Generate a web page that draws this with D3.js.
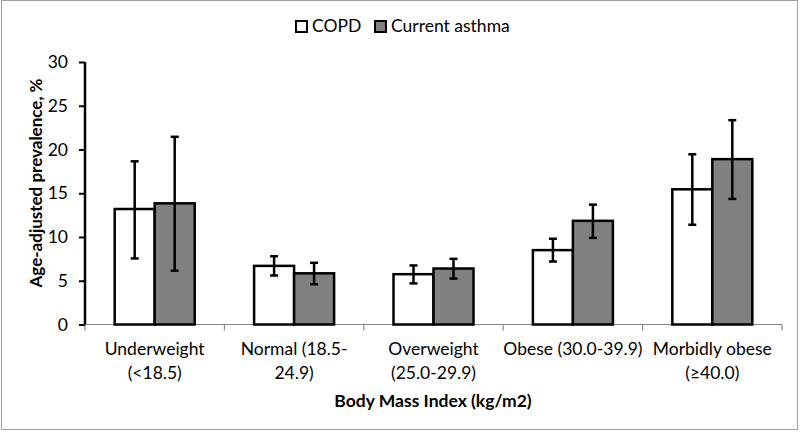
<!DOCTYPE html>
<html><head><meta charset="utf-8">
<script src="https://cdn.jsdelivr.net/npm/d3@7/dist/d3.min.js"></script>
<style>body{margin:0;background:#fff}svg{display:block}text{font-family:Lato,"Open Sans",sans-serif;fill:#000}</style>
</head><body><svg id="c" width="800" height="432"></svg>
<script>
const categories = ["Underweight (<18.5)", "Normal (18.5-24.9)", "Overweight (25.0-29.9)", "Obese (30.0-39.9)", "Morbidly obese (≥40.0)"];
const categoryLines = [["Underweight","(<18.5)"],["Normal (18.5-","24.9)"],["Overweight","(25.0-29.9)"],["Obese (30.0-39.9)"],["Morbidly obese","(≥40.0)"]];
const seriesNames = ["COPD", "Current asthma"];
const copd = [13.2, 6.7, 5.75, 8.5, 15.45];
const copdLow = [7.55, 5.6, 4.7, 7.2, 11.4];
const copdHigh = [18.65, 7.8, 6.75, 9.8, 19.45];
const asthma = [13.85, 5.85, 6.4, 11.85, 18.9];
const asthmaLow = [6.15, 4.6, 5.25, 9.9, 14.35];
const asthmaHigh = [21.45, 7.05, 7.5, 13.7, 23.35];
const yTicks = [0, 5, 10, 15, 20, 25, 30];

const svg = d3.select("#c");
const fills = ["#ffffff", "#808080"];
const mLeft = 85, mRight = 782, mTop = 62, mBottom = 324.5;
const fs = "17.5px";

svg.append("rect").attr("x",1.5).attr("y",0.5).attr("width",796).attr("height",429).attr("fill","none").attr("stroke","#a0a0a0").attr("stroke-width",1);

const x = d3.scaleBand().domain(categories).range([mLeft, mRight]).paddingInner(0).paddingOuter(0);
const inner = d3.scaleBand().domain(seriesNames).range([0, 80]);
const y = d3.scaleLinear().domain([0, 30]).range([mBottom, mTop]);

// x axis
const xa = svg.append("g").attr("transform", `translate(0,${mBottom})`);
xa.append("line").attr("x1", mLeft).attr("x2", mRight).attr("stroke", "#888").attr("stroke-width", 1.2);
const bounds = categories.map(c => x(c)).concat([mRight]);
xa.selectAll(".tk").data(bounds).enter().append("line").attr("x1", d => d).attr("x2", d => d).attr("y1", 0).attr("y2", 6).attr("stroke", "#888").attr("stroke-width", 1.2);

// bars
const series = [
  {name: seriesNames[0], v: copd, lo: copdLow, hi: copdHigh},
  {name: seriesNames[1], v: asthma, lo: asthmaLow, hi: asthmaHigh}
];
series.forEach((s, si) => {
  const g = svg.append("g");
  categories.forEach((c, i) => {
    const x0 = x(c) + (x.bandwidth() - 80) / 2 + inner(s.name);
    g.append("rect").attr("x", x0).attr("y", y(s.v[i])).attr("width", inner.bandwidth()).attr("height", y(0) - y(s.v[i]))
      .attr("fill", fills[si]).attr("stroke", "#000").attr("stroke-width", 2.5);
  });
});
series.forEach((s, si) => {
  const g = svg.append("g");
  categories.forEach((c, i) => {
    const cx = x(c) + (x.bandwidth() - 80) / 2 + inner(s.name) + inner.bandwidth() / 2;
    g.append("line").attr("x1", cx).attr("x2", cx).attr("y1", y(s.lo[i])).attr("y2", y(s.hi[i])).attr("stroke", "#000").attr("stroke-width", 2.5);
    [s.lo[i], s.hi[i]].forEach(v => g.append("line").attr("x1", cx - 4).attr("x2", cx + 4).attr("y1", y(v)).attr("y2", y(v)).attr("stroke", "#000").attr("stroke-width", 2.5));
  });
});

// y axis
const ya = svg.append("g").attr("transform", `translate(${mLeft},0)`)
  .call(d3.axisLeft(y).tickValues(yTicks).tickSize(6).tickPadding(11).tickFormat(d3.format("d")));
ya.select(".domain").attr("stroke", "#000").attr("stroke-width", 2.5).attr("d", `M0,${mTop}V${mBottom}`);
ya.selectAll(".tick line").attr("stroke", "#000").attr("stroke-width", 2);
ya.selectAll(".tick text").style("font-size", fs).style("font-family", "Lato, sans-serif");

// category labels
categories.forEach((c, i) => {
  const t = svg.append("text").attr("text-anchor", "middle").style("font-size", fs).attr("x", x(c) + x.bandwidth() / 2).attr("y", 355);
  categoryLines[i].forEach((ln, j) => t.append("tspan").attr("x", x(c) + x.bandwidth() / 2).attr("dy", j === 0 ? 0 : 24).text(ln));
});

// axis titles
svg.append("text").attr("x", 433).attr("y", 407).attr("text-anchor", "middle").style("font-size", "17.5px").style("font-weight", "bold").text("Body Mass Index (kg/m2)");
svg.append("text").attr("transform", "translate(42,183) rotate(-90)").attr("text-anchor", "middle").style("font-size", "17px").style("font-weight", "bold").text("Age-adjusted prevalence, %");

// legend
const leg = svg.append("g");
const legX = [296, 375];
seriesNames.forEach((n, i) => {
  leg.append("rect").attr("x", legX[i]).attr("y", 21).attr("width", 11).attr("height", 11).attr("fill", fills[i]).attr("stroke", "#000").attr("stroke-width", 2);
  leg.append("text").attr("x", legX[i] + 16).attr("y", 32).style("font-size", fs).text(n);
});
</script></body></html>
